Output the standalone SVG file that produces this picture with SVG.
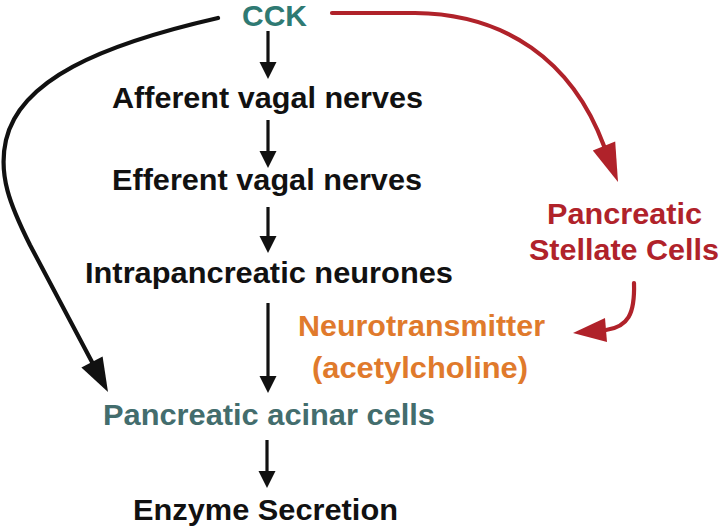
<svg xmlns="http://www.w3.org/2000/svg" width="720" height="526" viewBox="0 0 720 526">
<style>
text{font-family:"Liberation Sans",Arial,Helvetica,sans-serif;font-weight:bold;font-size:30px}
.blk{fill:#111}
.teal{fill:#2f7a73}
.acin{fill:#436d6d}
.red{fill:#b0222a}
.org{fill:#e07a2c}
.ln{fill:none;stroke:#111;stroke-width:3.2}
.cv{fill:none;stroke:#111;stroke-width:4.2;stroke-linecap:round}
.rl{fill:none;stroke:#b0222a;stroke-width:4.2;stroke-linecap:round}
.hb{fill:#111}
.hr{fill:#b0222a}
</style>
<rect width="720" height="526" fill="#fff"/>
<g id="connectors">
<g id="c1"><line class="ln" x1="268" y1="31" x2="268" y2="64"/><polygon class="hb" points="268,79 259.5,62 276.5,62"/></g>
<g id="c2"><line class="ln" x1="268" y1="120" x2="268" y2="153"/><polygon class="hb" points="268,168 259.5,151 276.5,151"/></g>
<g id="c3"><line class="ln" x1="268" y1="207" x2="268" y2="238"/><polygon class="hb" points="268,253 259.5,236 276.5,236"/></g>
<g id="c4"><line class="ln" x1="268" y1="303" x2="268" y2="378"/><polygon class="hb" points="268,393 259.5,376 276.5,376"/></g>
<g id="c5"><line class="ln" x1="267" y1="440" x2="267" y2="473"/><polygon class="hb" points="267,488 258.5,471 275.5,471"/></g>
<g id="c6"><path class="cv" d="M218,18 C100,45 20,80 6,140 C-2,175 10,205 30,245 L92,362"/><polygon class="hb" points="108,392 102.6,356.4 81.4,367.6"/></g>
<g id="c7"><path class="rl" d="M332,13 L415,13 C505,14 572,60 604,146"/><polygon class="hr" points="618,182 615.2,141.6 592.8,150.4"/></g>
<g id="c8"><path class="rl" d="M634,283 C635,314 628,327 606,330"/><polygon class="hr" points="573,333 607,342 605,318"/></g>
</g>
<g id="n-cck"><text class="teal" x="242" y="26" font-size="28" textLength="65" lengthAdjust="spacingAndGlyphs">CCK</text></g>
<g id="n-afferent"><text class="blk" x="112" y="108" textLength="311" lengthAdjust="spacingAndGlyphs">Afferent vagal nerves</text></g>
<g id="n-efferent"><text class="blk" x="112" y="190" textLength="310" lengthAdjust="spacingAndGlyphs">Efferent vagal nerves</text></g>
<g id="n-intra"><text class="blk" x="85" y="283" textLength="368" lengthAdjust="spacingAndGlyphs">Intrapancreatic neurones</text></g>
<g id="n-stellate"><text class="red" x="547" y="224" textLength="155" lengthAdjust="spacingAndGlyphs">Pancreatic</text><text class="red" x="529" y="260" textLength="190" lengthAdjust="spacingAndGlyphs">Stellate Cells</text></g>
<g id="n-neuro"><text class="org" x="298" y="336" textLength="247" lengthAdjust="spacingAndGlyphs">Neurotransmitter</text><text class="org" x="312" y="378" textLength="216" lengthAdjust="spacingAndGlyphs">(acetylcholine)</text></g>
<g id="n-acinar"><text class="acin" x="103" y="425" textLength="332" lengthAdjust="spacingAndGlyphs">Pancreatic acinar cells</text></g>
<g id="n-enzyme"><text class="blk" x="133" y="520" textLength="265" lengthAdjust="spacingAndGlyphs">Enzyme Secretion</text></g>
</svg>
